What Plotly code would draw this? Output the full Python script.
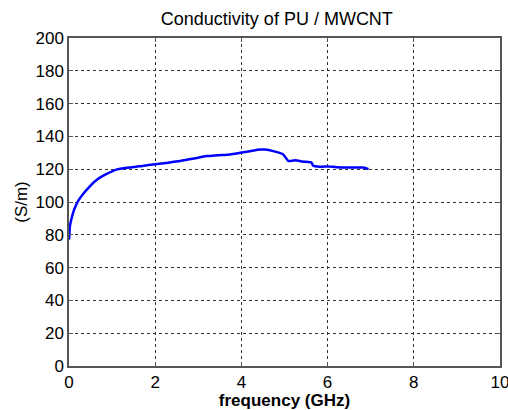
import plotly.graph_objects as go

freq_ghz = [0.0, 0.01, 0.02, 0.07, 0.12, 0.21, 0.35, 0.49, 0.66, 0.85, 1.12, 1.30, 1.50, 1.70,
            2.00, 2.30, 2.58, 2.90, 3.19, 3.45, 3.74, 3.97, 4.20, 4.43, 4.55, 4.74, 4.97, 5.09,
            5.24, 5.44, 5.63, 5.66, 5.82, 6.02, 6.21, 6.50, 6.83, 6.95]
conductivity = [77, 80, 85, 91, 95.4, 100.5, 105.6, 109.7, 113.8, 116.8, 119.9, 120.8, 121.3, 122,
                123, 124, 125, 126.5, 128, 128.5, 129, 130, 131, 132, 132, 131, 129, 125,
                125.4, 124.6, 124, 122.3, 121.5, 121.7, 121.2, 121, 121, 120]

x_ticks = [0, 2, 4, 6, 8, 10]
y_ticks = [0, 20, 40, 60, 80, 100, 120, 140, 160, 180, 200]

fig = go.Figure()
fig.add_trace(go.Scatter(x=freq_ghz, y=conductivity, mode="lines",
                         line=dict(color="#0000ff", width=2.5), line_shape="spline",
                         line_smoothing=0.6, showlegend=False))

axis_common = dict(showline=True, linecolor="#555555", linewidth=1.5, mirror="ticks",
                   ticks="inside", ticklen=4, tickcolor="#555555",
                   showgrid=True, gridcolor="#333333", griddash="dot", gridwidth=1,
                   zeroline=False, automargin=False, ticklabeloverflow="allow",
                   tickfont=dict(size=17, color="black"))

fig.update_layout(
    width=508, height=410,
    margin=dict(l=69, r=8, t=38, b=44),
    paper_bgcolor="white", plot_bgcolor="white",
    font=dict(family="Liberation Sans, Arial, sans-serif", color="black"),
    title=dict(text="Conductivity of PU / MWCNT", x=0.545, xanchor="center",
               y=0.955, yanchor="middle", font=dict(size=18, color="black")),
    xaxis=dict(range=[0, 10], tickvals=x_ticks, ticktext=[str(v) for v in x_ticks],
               title=dict(text="<b>frequency (GHz)</b>", font=dict(size=17), standoff=2),
               **axis_common),
    yaxis=dict(range=[0, 200], tickvals=y_ticks, ticktext=[str(v) for v in y_ticks],
               title=dict(text="(S/m)", font=dict(size=17), standoff=4),
               **axis_common),
)

fig.write_html("out.html")
